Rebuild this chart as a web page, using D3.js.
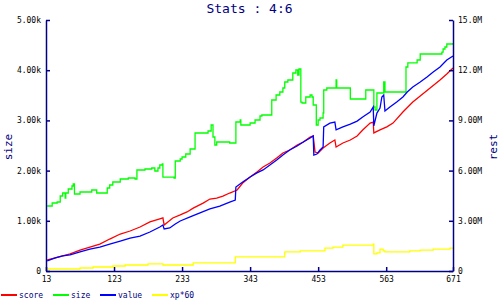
<!DOCTYPE html>
<html>
<head>
<meta charset="utf-8">
<script src="https://cdn.jsdelivr.net/npm/d3@7"></script>
<style>
  body { margin: 0; background: #fff; }
  svg { display: block; }
  text { font-family: "DejaVu Sans Mono", "Liberation Mono", monospace; }
</style>
</head>
<body>
<svg width="500" height="300"></svg>
<script>
// values
var title = "Stats : 4:6";
var xTicks = [13, 123, 233, 343, 453, 563, 671];
var sizeTicks = [0, 1000, 2000, 3000, 4000, 5000];
var restTicks = [0, 3e6, 6e6, 9e6, 12e6, 15e6];

// size (left axis), [x, size]
var size = [
  [15,1295],[23,1355],[31,1375],[36,1494],[40,1554],[44,1454],[45,1554],[49,1633],
  [55,1693],[57,1733],[59,1534],[68,1574],[87,1614],[95,1554],[112,1653],[116,1713],
  [121,1773],[133,1833],[146,1853],[157,1833],[160,2012],[173,2032],[184,2052],[189,1992],
  [194,2052],[197,2112],[201,2131],[202,1872],[220,1853],[222,2191],[230,2231],[233,2271],
  [239,2331],[246,2430],[254,2749],[275,2789],[280,2908],[283,2669],[286,2510],[289,2570],
  [310,2550],[320,2968],[327,3008],[328,2908],[343,2948],[351,3008],[359,3088],[362,3108],
  [378,3406],[385,3506],[391,3566],[396,3645],[399,3765],[404,3805],[412,3944],[417,4004],
  [420,3904],[422,4024],[425,3366],[427,3347],[433,3466],[440,3506],[443,3466],[445,3307],
  [450,2908],[453,3008],[456,3048],[461,3147],[462,3606],[467,3645],[482,3805],[483,3645],
  [505,3426],[530,3606],[543,3267],[545,3207],[548,3546],[559,3765],[561,3566],
  [595,4064],[598,4144],[613,4203],[618,4323],[653,4362],[655,4422],[658,4462],[661,4522],[671,4542]
];

// score (right axis), [x, millions]
var score = [
  [15,0.66],[28,0.78],[40,0.90],[52,1.02],[68,1.25],[84,1.43],[100,1.61],[116,1.91],
  [133,2.21],[149,2.39],[165,2.63],[181,2.93],[197,3.11],[202,3.17],[204,2.75],[218,3.17],
  [230,3.35],[241,3.53],[251,3.76],[267,4.06],[278,4.30],[289,4.36],[299,4.48],[310,4.66],
  [322,4.84],[331,5.26],[343,5.62],[354,5.92],[364,6.22],[375,6.45],[386,6.75],[396,7.05],
  [407,7.23],[419,7.53],[429,7.71],[440,8.01],[445,8.07],[448,7.11],[453,7.05],[461,7.35],
  [472,7.65],[480,7.83],[482,7.41],[493,7.65],[505,7.83],[516,8.07],[525,8.43],[537,8.84],
  [542,8.90],[543,8.25],[553,8.43],[564,8.61],[574,8.84],[590,9.50],[606,10.10],[618,10.46],
  [634,10.94],[650,11.41],[661,11.77],[671,12.13]
];

// value (right axis), [x, millions]
var value = [
  [15,0.60],[28,0.78],[40,0.90],[52,0.96],[68,1.14],[84,1.31],[100,1.43],[116,1.61],
  [133,1.79],[149,1.97],[165,2.09],[181,2.33],[197,2.63],[202,2.75],[204,2.51],[213,2.57],
  [222,2.81],[230,2.99],[246,3.23],[262,3.47],[278,3.71],[294,3.88],[310,4.12],[319,4.24],
  [320,5.02],[331,5.32],[343,5.62],[354,5.86],[364,6.04],[375,6.33],[386,6.63],[396,6.93],
  [407,7.23],[419,7.47],[429,7.71],[440,7.95],[445,8.07],[446,6.93],[451,6.99],[456,7.23],
  [461,7.41],[462,8.61],[472,8.84],[480,8.90],[482,8.43],[493,8.61],[505,8.78],[516,8.96],
  [525,9.20],[537,9.50],[542,9.80],[543,8.67],[548,9.44],[553,9.74],[556,10.40],[559,10.52],
  [561,9.56],[569,9.80],[580,10.10],[590,10.40],[597,10.70],[606,11.00],[618,11.29],
  [629,11.59],[639,11.89],[650,12.19],[661,12.61],[671,12.85]
];

// xp*60 (right axis), [x, millions]
var xp60 = [
  [15,0.12],[68,0.18],[89,0.24],[121,0.30],[141,0.36],[178,0.42],[202,0.36],[251,0.48],
  [319,0.84],[399,1.14],[424,1.20],[464,1.37],[477,1.43],[493,1.55],[542,1.61],[543,1.02],
  [548,1.08],[553,1.31],[558,1.20],[561,1.14],[601,1.20],[618,1.25],[639,1.31],[666,1.37],[671,1.37]
];

var legendNames = ["score", "size", "value", "xp*60"];
var legendColors = ["#ff0000", "#00ff00", "#0000ff", "#ffff00"];

var svg = d3.select("svg"),
    margin = {top: 20, right: 47, bottom: 29, left: 46},
    width = +svg.attr("width") - margin.left - margin.right,
    height = +svg.attr("height") - margin.top - margin.bottom;

var navy = "#000080";

// scales
var x = d3.scaleLinear().domain([13, 671]).range([0, width]),
    ySize = d3.scaleLinear().domain([0, 5000]).range([height, 0]),
    yRest = d3.scaleLinear().domain([0, 15e6]).range([height, 0]);

function fmt(v) { return v === 0 ? "0" : d3.format(".3s")(v); }

var g = svg.append("g").attr("transform", "translate(" + margin.left + "," + margin.top + ")");

// lines
var lineSize = d3.line()
    .curve(d3.curveStepAfter)
    .x(function(d) { return x(d[0]); })
    .y(function(d) { return ySize(d[1]); });
var lineRest = d3.line()
    .x(function(d) { return x(d[0]); })
    .y(function(d) { return yRest(d[1] * 1e6); });
var lineRestStep = d3.line()
    .curve(d3.curveStepAfter)
    .x(function(d) { return x(d[0]); })
    .y(function(d) { return yRest(d[1] * 1e6); });

var series = [
  {data: score, line: lineRest, color: legendColors[0]},
  {data: size, line: lineSize, color: legendColors[1]},
  {data: value, line: lineRest, color: legendColors[2]},
  {data: xp60, line: lineRestStep, color: legendColors[3]}
];

g.selectAll(".series")
  .data(series)
  .enter().append("path")
    .attr("class", "series")
    .attr("fill", "none")
    .attr("stroke-width", 1.3)
    .attr("stroke", function(d) { return d.color; })
    .attr("d", function(d) { return d.line(d.data); });

// axes, ticks point inward
function styleAxis(sel) {
  sel.select(".domain").attr("stroke", navy).attr("stroke-width", 1.5);
  sel.selectAll(".tick line").attr("stroke", navy).attr("stroke-width", 1.5);
  sel.selectAll(".tick text").attr("fill", "#000").style("font-size", "8px")
     .style("font-family", "'DejaVu Sans Mono', monospace");
}

g.append("g")
  .attr("transform", "translate(0," + height + ")")
  .call(d3.axisBottom(x).tickValues(xTicks).tickFormat(d3.format("d"))
        .tickSizeInner(-4).tickSizeOuter(0).tickPadding(5))
  .call(styleAxis);

g.append("g")
  .call(d3.axisLeft(ySize).tickValues(sizeTicks).tickFormat(fmt)
        .tickSizeInner(-4).tickSizeOuter(0).tickPadding(5))
  .call(styleAxis);

g.append("g")
  .attr("transform", "translate(" + width + ",0)")
  .call(d3.axisRight(yRest).tickValues(restTicks).tickFormat(fmt)
        .tickSizeInner(-4).tickSizeOuter(0).tickPadding(5))
  .call(styleAxis);

// title and axis names
svg.append("text")
  .attr("x", margin.left + width / 2)
  .attr("y", 13)
  .attr("text-anchor", "middle")
  .attr("fill", navy)
  .style("font-size", "13px")
  .text(title);

svg.append("text")
  .attr("transform", "translate(12,147) rotate(-90)")
  .attr("text-anchor", "middle")
  .attr("fill", navy)
  .style("font-size", "11px")
  .text("size");

svg.append("text")
  .attr("transform", "translate(497,147) rotate(-90)")
  .attr("text-anchor", "middle")
  .attr("fill", navy)
  .style("font-size", "11px")
  .text("rest");

// legend
var lx = 1;
legendNames.forEach(function(name, i) {
  svg.append("line")
    .attr("x1", lx).attr("x2", lx + 16)
    .attr("y1", 295).attr("y2", 295)
    .attr("stroke", legendColors[i])
    .attr("stroke-width", 2);
  svg.append("text")
    .attr("x", lx + 18)
    .attr("y", 298)
    .attr("fill", navy)
    .style("font-size", "8px")
    .text(name);
  lx += 27 + 5 * name.length;
});
</script>
</body>
</html>
